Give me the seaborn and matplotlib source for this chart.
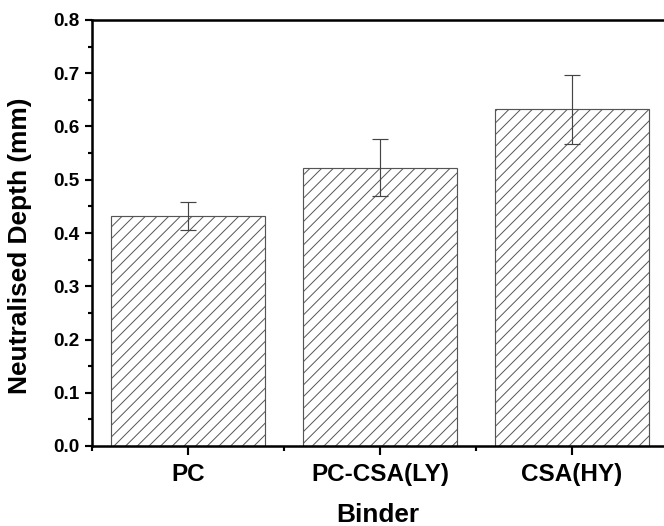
import numpy as np
import pandas as pd
import matplotlib
matplotlib.use('Agg')
import matplotlib.pyplot as plt
import seaborn as sns
from matplotlib.ticker import MultipleLocator, FixedLocator

binders = ['PC', 'PC-CSA(LY)', 'CSA(HY)']
depth = [0.432, 0.523, 0.632]
depth_err = [0.026, 0.054, 0.065]

sns.set_style('ticks')
plt.rcParams['font.family'] = ['Liberation Sans', 'DejaVu Sans']
plt.rcParams['font.weight'] = 'bold'
plt.rcParams['hatch.linewidth'] = 0.5
for k in ['text.color', 'axes.labelcolor', 'xtick.color', 'ytick.color']:
    plt.rcParams[k] = 'black'

DPI = 140
fig = plt.figure(figsize=(664 / DPI, 526 / DPI), dpi=DPI)
ax = fig.add_axes([92 / 664, 80 / 526, 572 / 664, 426 / 526])

data = pd.DataFrame({'Binder': binders, 'Depth': depth})
sns.barplot(data=data, x='Binder', y='Depth', color='white', edgecolor='#555555',
            linewidth=0.6, hatch='////', width=0.8, errorbar=None, ax=ax)
ax.errorbar(range(len(binders)), depth, yerr=depth_err, fmt='none',
            ecolor='#444444', elinewidth=0.6, capsize=4, capthick=0.6)

ax.set_ylim(0, 0.8)
ax.set_xlim(-0.5, 2.479)
ax.yaxis.set_major_locator(MultipleLocator(0.1))
ax.yaxis.set_minor_locator(MultipleLocator(0.05))
ax.xaxis.set_minor_locator(FixedLocator([-0.5, 0.5, 1.5]))
ax.set_yticklabels([f'{v:.1f}' for v in ax.get_yticks()])

for s in ['left', 'bottom', 'top']:
    ax.spines[s].set_linewidth(1.3)
    ax.spines[s].set_color('black')
ax.spines['right'].set_visible(False)

ax.tick_params(axis='y', which='major', direction='out', length=3.5, width=1.1,
               labelsize=9.7, pad=3)
ax.tick_params(axis='y', which='minor', direction='out', length=2, width=1.1)
ax.tick_params(axis='x', which='major', direction='out', length=4.5, width=1.1,
               labelsize=12.5, pad=4)
ax.tick_params(axis='x', which='minor', direction='out', length=2.5, width=1.1)

ax.set_xlabel('Binder', fontsize=13.5, fontweight='bold', labelpad=9)
ax.set_ylabel('Neutralised Depth (mm)', fontsize=13.5, fontweight='bold')
ax.yaxis.set_label_coords(-0.105, 0.47)

fig.savefig('out.png', dpi=DPI)
